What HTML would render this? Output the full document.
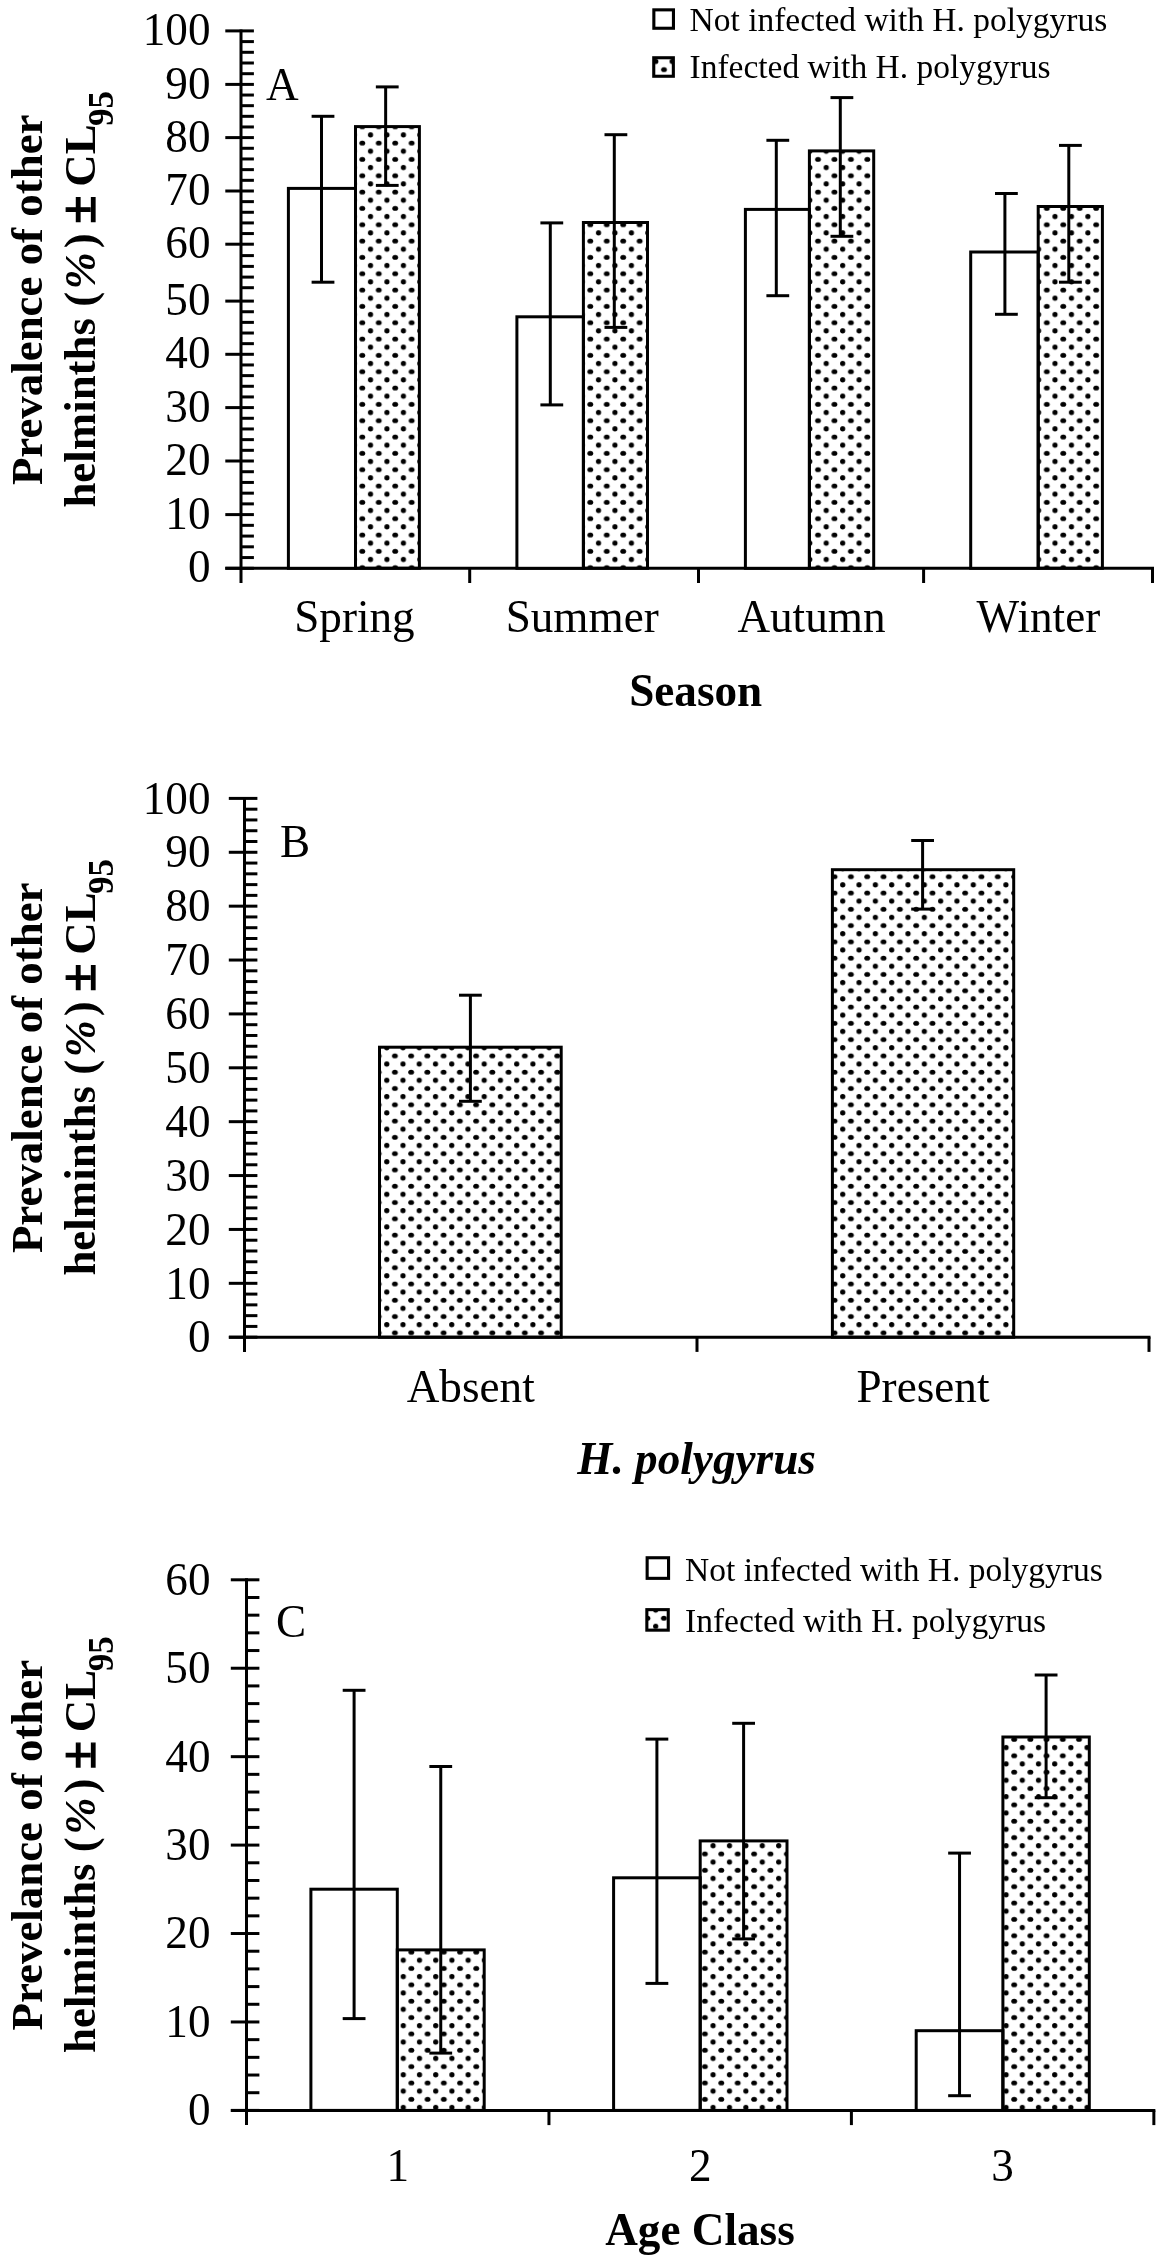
<!DOCTYPE html>
<html><head><meta charset="utf-8"><title>Prevalence of other helminths</title>
<style>
html,body{margin:0;padding:0;background:#fff;overflow:hidden;}
svg{display:block;filter:grayscale(1);}
text{font-family:"Liberation Serif",serif;fill:#000;}
</style></head>
<body>
<svg width="1156" height="2255" viewBox="0 0 1156 2255" stroke="#000" fill="#000">
<defs><pattern id="p0" patternUnits="userSpaceOnUse" x="358.19" y="547.22" width="16.45" height="16.33"><g stroke="none"><ellipse cx="4.11" cy="4.08" rx="2.9" ry="2.5"/><ellipse cx="12.34" cy="12.25" rx="2.6" ry="2.6"/></g></pattern><pattern id="p1" patternUnits="userSpaceOnUse" x="586.19" y="547.22" width="16.45" height="16.33"><g stroke="none"><ellipse cx="4.11" cy="4.08" rx="2.9" ry="2.5"/><ellipse cx="12.34" cy="12.25" rx="2.6" ry="2.6"/></g></pattern><pattern id="p2" patternUnits="userSpaceOnUse" x="813.89" y="547.22" width="16.45" height="16.33"><g stroke="none"><ellipse cx="4.11" cy="4.08" rx="2.9" ry="2.5"/><ellipse cx="12.34" cy="12.25" rx="2.6" ry="2.6"/></g></pattern><pattern id="p3" patternUnits="userSpaceOnUse" x="1042.69" y="547.22" width="16.45" height="16.33"><g stroke="none"><ellipse cx="4.11" cy="4.08" rx="2.9" ry="2.5"/><ellipse cx="12.34" cy="12.25" rx="2.6" ry="2.6"/></g></pattern><pattern id="p4" patternUnits="userSpaceOnUse" x="659.9" y="65.52" width="16.4" height="16.33"><g stroke="none"><ellipse cx="4.1" cy="4.08" rx="2.9" ry="2.5"/><ellipse cx="12.3" cy="12.25" rx="2.6" ry="2.6"/></g></pattern><pattern id="p5" patternUnits="userSpaceOnUse" x="390.84" y="1328.73" width="16.24" height="16.29"><g stroke="none"><ellipse cx="4.06" cy="4.07" rx="2.9" ry="2.5"/><ellipse cx="12.18" cy="12.22" rx="2.6" ry="2.6"/></g></pattern><pattern id="p6" patternUnits="userSpaceOnUse" x="846.82" y="1328.73" width="16.32" height="16.29"><g stroke="none"><ellipse cx="4.08" cy="4.07" rx="2.9" ry="2.5"/><ellipse cx="12.24" cy="12.22" rx="2.6" ry="2.6"/></g></pattern><pattern id="p7" patternUnits="userSpaceOnUse" x="407.34" y="2095.21" width="16.22" height="16.36"><g stroke="none"><ellipse cx="4.05" cy="4.09" rx="2.9" ry="2.5"/><ellipse cx="12.16" cy="12.27" rx="2.6" ry="2.6"/></g></pattern><pattern id="p8" patternUnits="userSpaceOnUse" x="700.8" y="2095.21" width="16.4" height="16.36"><g stroke="none"><ellipse cx="4.1" cy="4.09" rx="2.9" ry="2.5"/><ellipse cx="12.3" cy="12.27" rx="2.6" ry="2.6"/></g></pattern><pattern id="p9" patternUnits="userSpaceOnUse" x="1010.15" y="2095.21" width="16.2" height="16.36"><g stroke="none"><ellipse cx="4.05" cy="4.09" rx="2.9" ry="2.5"/><ellipse cx="12.15" cy="12.27" rx="2.6" ry="2.6"/></g></pattern><pattern id="p10" patternUnits="userSpaceOnUse" x="659.8" y="1614.12" width="16.4" height="16.33"><g stroke="none"><ellipse cx="4.1" cy="4.08" rx="2.9" ry="2.5"/><ellipse cx="12.3" cy="12.25" rx="2.6" ry="2.6"/></g></pattern></defs>
<g>
<line x1="241" y1="29.4" x2="241" y2="583" stroke-width="3"/>
<line x1="225.3" y1="568.3" x2="253.9" y2="568.3" stroke-width="3"/>
<text stroke="none" transform="translate(210.5 582.4) scale(1 1.045)" font-size="45.2" text-anchor="end">0</text>
<line x1="241" y1="557.56" x2="253.9" y2="557.56" stroke-width="3"/>
<line x1="241" y1="546.82" x2="253.9" y2="546.82" stroke-width="3"/>
<line x1="241" y1="536.08" x2="253.9" y2="536.08" stroke-width="3"/>
<line x1="241" y1="525.34" x2="253.9" y2="525.34" stroke-width="3"/>
<line x1="225.3" y1="514.6" x2="253.9" y2="514.6" stroke-width="3"/>
<text stroke="none" transform="translate(210.5 528.7) scale(1 1.045)" font-size="45.2" text-anchor="end">10</text>
<line x1="241" y1="503.88" x2="253.9" y2="503.88" stroke-width="3"/>
<line x1="241" y1="493.16" x2="253.9" y2="493.16" stroke-width="3"/>
<line x1="241" y1="482.44" x2="253.9" y2="482.44" stroke-width="3"/>
<line x1="241" y1="471.72" x2="253.9" y2="471.72" stroke-width="3"/>
<line x1="225.3" y1="461" x2="253.9" y2="461" stroke-width="3"/>
<text stroke="none" transform="translate(210.5 475.1) scale(1 1.045)" font-size="45.2" text-anchor="end">20</text>
<line x1="241" y1="450.32" x2="253.9" y2="450.32" stroke-width="3"/>
<line x1="241" y1="439.64" x2="253.9" y2="439.64" stroke-width="3"/>
<line x1="241" y1="428.96" x2="253.9" y2="428.96" stroke-width="3"/>
<line x1="241" y1="418.28" x2="253.9" y2="418.28" stroke-width="3"/>
<line x1="225.3" y1="407.6" x2="253.9" y2="407.6" stroke-width="3"/>
<text stroke="none" transform="translate(210.5 421.7) scale(1 1.045)" font-size="45.2" text-anchor="end">30</text>
<line x1="241" y1="396.94" x2="253.9" y2="396.94" stroke-width="3"/>
<line x1="241" y1="386.28" x2="253.9" y2="386.28" stroke-width="3"/>
<line x1="241" y1="375.62" x2="253.9" y2="375.62" stroke-width="3"/>
<line x1="241" y1="364.96" x2="253.9" y2="364.96" stroke-width="3"/>
<line x1="225.3" y1="354.3" x2="253.9" y2="354.3" stroke-width="3"/>
<text stroke="none" transform="translate(210.5 368.4) scale(1 1.045)" font-size="45.2" text-anchor="end">40</text>
<line x1="241" y1="343.66" x2="253.9" y2="343.66" stroke-width="3"/>
<line x1="241" y1="333.02" x2="253.9" y2="333.02" stroke-width="3"/>
<line x1="241" y1="322.38" x2="253.9" y2="322.38" stroke-width="3"/>
<line x1="241" y1="311.74" x2="253.9" y2="311.74" stroke-width="3"/>
<line x1="225.3" y1="301.1" x2="253.9" y2="301.1" stroke-width="3"/>
<text stroke="none" transform="translate(210.5 315.2) scale(1 1.045)" font-size="45.2" text-anchor="end">50</text>
<line x1="241" y1="287.7" x2="253.9" y2="287.7" stroke-width="3"/>
<line x1="241" y1="277.1" x2="253.9" y2="277.1" stroke-width="3"/>
<line x1="241" y1="266.4" x2="253.9" y2="266.4" stroke-width="3"/>
<line x1="241" y1="255.6" x2="253.9" y2="255.6" stroke-width="3"/>
<line x1="225.3" y1="244.2" x2="253.9" y2="244.2" stroke-width="3"/>
<text stroke="none" transform="translate(210.5 258.3) scale(1 1.045)" font-size="45.2" text-anchor="end">60</text>
<line x1="241" y1="233.56" x2="253.9" y2="233.56" stroke-width="3"/>
<line x1="241" y1="222.92" x2="253.9" y2="222.92" stroke-width="3"/>
<line x1="241" y1="212.28" x2="253.9" y2="212.28" stroke-width="3"/>
<line x1="241" y1="201.64" x2="253.9" y2="201.64" stroke-width="3"/>
<line x1="225.3" y1="191" x2="253.9" y2="191" stroke-width="3"/>
<text stroke="none" transform="translate(210.5 205.1) scale(1 1.045)" font-size="45.2" text-anchor="end">70</text>
<line x1="241" y1="180.32" x2="253.9" y2="180.32" stroke-width="3"/>
<line x1="241" y1="169.64" x2="253.9" y2="169.64" stroke-width="3"/>
<line x1="241" y1="158.96" x2="253.9" y2="158.96" stroke-width="3"/>
<line x1="241" y1="148.28" x2="253.9" y2="148.28" stroke-width="3"/>
<line x1="225.3" y1="137.6" x2="253.9" y2="137.6" stroke-width="3"/>
<text stroke="none" transform="translate(210.5 151.7) scale(1 1.045)" font-size="45.2" text-anchor="end">80</text>
<line x1="241" y1="126.96" x2="253.9" y2="126.96" stroke-width="3"/>
<line x1="241" y1="116.32" x2="253.9" y2="116.32" stroke-width="3"/>
<line x1="241" y1="105.68" x2="253.9" y2="105.68" stroke-width="3"/>
<line x1="241" y1="95.04" x2="253.9" y2="95.04" stroke-width="3"/>
<line x1="225.3" y1="84.4" x2="253.9" y2="84.4" stroke-width="3"/>
<text stroke="none" transform="translate(210.5 98.5) scale(1 1.045)" font-size="45.2" text-anchor="end">90</text>
<line x1="241" y1="73.7" x2="253.9" y2="73.7" stroke-width="3"/>
<line x1="241" y1="63" x2="253.9" y2="63" stroke-width="3"/>
<line x1="241" y1="52.3" x2="253.9" y2="52.3" stroke-width="3"/>
<line x1="241" y1="41.6" x2="253.9" y2="41.6" stroke-width="3"/>
<line x1="225.3" y1="30.9" x2="253.9" y2="30.9" stroke-width="3"/>
<text stroke="none" transform="translate(210.5 45) scale(1 1.045)" font-size="45.2" text-anchor="end">100</text>
<line x1="225.3" y1="568.3" x2="1154" y2="568.3" stroke-width="3"/>
<line x1="469.7" y1="568.3" x2="469.7" y2="583" stroke-width="3"/>
<line x1="698.5" y1="568.3" x2="698.5" y2="583" stroke-width="3"/>
<line x1="923.6" y1="568.3" x2="923.6" y2="583" stroke-width="3"/>
<line x1="1152.5" y1="568.3" x2="1152.5" y2="583" stroke-width="3"/>
<rect x="288.4" y="188.4" width="67.1" height="379.9" fill="#fff" stroke-width="3"/>
<rect x="355.5" y="126.6" width="63.9" height="441.7" fill="url(#p0)" stroke-width="3"/>
<rect x="516.9" y="316.8" width="66.5" height="251.5" fill="#fff" stroke-width="3"/>
<rect x="583.4" y="222.5" width="64.1" height="345.8" fill="url(#p1)" stroke-width="3"/>
<rect x="745.4" y="209.4" width="64" height="358.9" fill="#fff" stroke-width="3"/>
<rect x="809.4" y="150.9" width="64.3" height="417.4" fill="url(#p2)" stroke-width="3"/>
<rect x="970.7" y="252" width="67.5" height="316.3" fill="#fff" stroke-width="3"/>
<rect x="1038.2" y="206.5" width="64.2" height="361.8" fill="url(#p3)" stroke-width="3"/>
<line x1="321.5" y1="116.3" x2="321.5" y2="282.2" stroke-width="3"/>
<line x1="311.6" y1="116.3" x2="334.4" y2="116.3" stroke-width="3"/>
<line x1="311.6" y1="282.2" x2="334.4" y2="282.2" stroke-width="3"/>
<line x1="385.65" y1="86.9" x2="385.65" y2="185.4" stroke-width="3"/>
<line x1="375.85" y1="86.9" x2="398.65" y2="86.9" stroke-width="3"/>
<line x1="375.85" y1="185.4" x2="398.65" y2="185.4" stroke-width="3"/>
<line x1="550.3" y1="222.9" x2="550.3" y2="404.9" stroke-width="3"/>
<line x1="540.4" y1="222.9" x2="563.2" y2="222.9" stroke-width="3"/>
<line x1="540.4" y1="404.9" x2="563.2" y2="404.9" stroke-width="3"/>
<line x1="614.3" y1="134.7" x2="614.3" y2="327.4" stroke-width="3"/>
<line x1="604.5" y1="134.7" x2="627.3" y2="134.7" stroke-width="3"/>
<line x1="604.5" y1="327.4" x2="627.3" y2="327.4" stroke-width="3"/>
<line x1="776.3" y1="140.3" x2="776.3" y2="295.7" stroke-width="3"/>
<line x1="766.4" y1="140.3" x2="789.2" y2="140.3" stroke-width="3"/>
<line x1="766.4" y1="295.7" x2="789.2" y2="295.7" stroke-width="3"/>
<line x1="840.3" y1="97.6" x2="840.3" y2="236.3" stroke-width="3"/>
<line x1="830.5" y1="97.6" x2="853.3" y2="97.6" stroke-width="3"/>
<line x1="830.5" y1="236.3" x2="853.3" y2="236.3" stroke-width="3"/>
<line x1="1004.9" y1="193.5" x2="1004.9" y2="314.3" stroke-width="3"/>
<line x1="995" y1="193.5" x2="1017.8" y2="193.5" stroke-width="3"/>
<line x1="995" y1="314.3" x2="1017.8" y2="314.3" stroke-width="3"/>
<line x1="1068.8" y1="145.4" x2="1068.8" y2="282.2" stroke-width="3"/>
<line x1="1059" y1="145.4" x2="1081.8" y2="145.4" stroke-width="3"/>
<line x1="1059" y1="282.2" x2="1081.8" y2="282.2" stroke-width="3"/>
<text stroke="none" transform="translate(266 99.5) scale(1 1.045)" font-size="45.2">A</text>
<rect x="653.85" y="9.85" width="19.6" height="18.4" fill="#fff" stroke-width="3.1"/>
<rect x="653.75" y="57.75" width="19.6" height="18.5" fill="url(#p4)" stroke-width="3.1"/>
<text stroke="none" x="689.5" y="30.8" font-size="33.5">Not infected with H. polygyrus</text>
<text stroke="none" x="689.5" y="78.3" font-size="33.5">Infected with H. polygyrus</text>
<text stroke="none" transform="translate(354.45 631.8) scale(1 1.045)" font-size="45.2" text-anchor="middle">Spring</text>
<text stroke="none" transform="translate(582.2 631.8) scale(1 1.045)" font-size="45.2" text-anchor="middle">Summer</text>
<text stroke="none" transform="translate(811.45 631.8) scale(1 1.045)" font-size="45.2" text-anchor="middle">Autumn</text>
<text stroke="none" transform="translate(1038.45 631.8) scale(1 1.045)" font-size="45.2" text-anchor="middle">Winter</text>
<text stroke="none" transform="translate(695.7 706.2) scale(1 1.045)" font-size="45.2" text-anchor="middle" font-weight="bold">Season</text>
<g transform="translate(42 299.8) rotate(-90)">
<text stroke="none" x="0" y="0" font-size="44.9" font-weight="bold" text-anchor="middle">Prevalence of other</text>
<text stroke="none" x="0.55" y="53" font-size="44.9" font-weight="bold" text-anchor="middle">helminths (<tspan font-style="italic" dx="2.4">%</tspan><tspan dx="3.85">)</tspan> <tspan font-size="51.5" dx="-1.75" stroke="#000" stroke-width="1.3">±</tspan><tspan font-size="44.9" dx="-2.5"> CL</tspan><tspan font-size="35" dx="-1.5" dy="17.5">95</tspan></text>
</g>
<line x1="244.5" y1="796.9" x2="244.5" y2="1351.9" stroke-width="3"/>
<line x1="228.8" y1="1337.2" x2="257.4" y2="1337.2" stroke-width="3"/>
<text stroke="none" transform="translate(210.5 1352.4) scale(1 1.045)" font-size="45.2" text-anchor="end">0</text>
<line x1="244.5" y1="1326.42" x2="257.4" y2="1326.42" stroke-width="3"/>
<line x1="244.5" y1="1315.65" x2="257.4" y2="1315.65" stroke-width="3"/>
<line x1="244.5" y1="1304.87" x2="257.4" y2="1304.87" stroke-width="3"/>
<line x1="244.5" y1="1294.1" x2="257.4" y2="1294.1" stroke-width="3"/>
<line x1="228.8" y1="1283.32" x2="257.4" y2="1283.32" stroke-width="3"/>
<text stroke="none" transform="translate(210.5 1298.52) scale(1 1.045)" font-size="45.2" text-anchor="end">10</text>
<line x1="244.5" y1="1272.54" x2="257.4" y2="1272.54" stroke-width="3"/>
<line x1="244.5" y1="1261.77" x2="257.4" y2="1261.77" stroke-width="3"/>
<line x1="244.5" y1="1250.99" x2="257.4" y2="1250.99" stroke-width="3"/>
<line x1="244.5" y1="1240.22" x2="257.4" y2="1240.22" stroke-width="3"/>
<line x1="228.8" y1="1229.44" x2="257.4" y2="1229.44" stroke-width="3"/>
<text stroke="none" transform="translate(210.5 1244.64) scale(1 1.045)" font-size="45.2" text-anchor="end">20</text>
<line x1="244.5" y1="1218.66" x2="257.4" y2="1218.66" stroke-width="3"/>
<line x1="244.5" y1="1207.89" x2="257.4" y2="1207.89" stroke-width="3"/>
<line x1="244.5" y1="1197.11" x2="257.4" y2="1197.11" stroke-width="3"/>
<line x1="244.5" y1="1186.34" x2="257.4" y2="1186.34" stroke-width="3"/>
<line x1="228.8" y1="1175.56" x2="257.4" y2="1175.56" stroke-width="3"/>
<text stroke="none" transform="translate(210.5 1190.76) scale(1 1.045)" font-size="45.2" text-anchor="end">30</text>
<line x1="244.5" y1="1164.78" x2="257.4" y2="1164.78" stroke-width="3"/>
<line x1="244.5" y1="1154.01" x2="257.4" y2="1154.01" stroke-width="3"/>
<line x1="244.5" y1="1143.23" x2="257.4" y2="1143.23" stroke-width="3"/>
<line x1="244.5" y1="1132.46" x2="257.4" y2="1132.46" stroke-width="3"/>
<line x1="228.8" y1="1121.68" x2="257.4" y2="1121.68" stroke-width="3"/>
<text stroke="none" transform="translate(210.5 1136.88) scale(1 1.045)" font-size="45.2" text-anchor="end">40</text>
<line x1="244.5" y1="1110.9" x2="257.4" y2="1110.9" stroke-width="3"/>
<line x1="244.5" y1="1100.13" x2="257.4" y2="1100.13" stroke-width="3"/>
<line x1="244.5" y1="1089.35" x2="257.4" y2="1089.35" stroke-width="3"/>
<line x1="244.5" y1="1078.58" x2="257.4" y2="1078.58" stroke-width="3"/>
<line x1="228.8" y1="1067.8" x2="257.4" y2="1067.8" stroke-width="3"/>
<text stroke="none" transform="translate(210.5 1083) scale(1 1.045)" font-size="45.2" text-anchor="end">50</text>
<line x1="244.5" y1="1057.02" x2="257.4" y2="1057.02" stroke-width="3"/>
<line x1="244.5" y1="1046.25" x2="257.4" y2="1046.25" stroke-width="3"/>
<line x1="244.5" y1="1035.47" x2="257.4" y2="1035.47" stroke-width="3"/>
<line x1="244.5" y1="1024.7" x2="257.4" y2="1024.7" stroke-width="3"/>
<line x1="228.8" y1="1013.92" x2="257.4" y2="1013.92" stroke-width="3"/>
<text stroke="none" transform="translate(210.5 1029.12) scale(1 1.045)" font-size="45.2" text-anchor="end">60</text>
<line x1="244.5" y1="1003.14" x2="257.4" y2="1003.14" stroke-width="3"/>
<line x1="244.5" y1="992.37" x2="257.4" y2="992.37" stroke-width="3"/>
<line x1="244.5" y1="981.59" x2="257.4" y2="981.59" stroke-width="3"/>
<line x1="244.5" y1="970.82" x2="257.4" y2="970.82" stroke-width="3"/>
<line x1="228.8" y1="960.04" x2="257.4" y2="960.04" stroke-width="3"/>
<text stroke="none" transform="translate(210.5 975.24) scale(1 1.045)" font-size="45.2" text-anchor="end">70</text>
<line x1="244.5" y1="949.26" x2="257.4" y2="949.26" stroke-width="3"/>
<line x1="244.5" y1="938.49" x2="257.4" y2="938.49" stroke-width="3"/>
<line x1="244.5" y1="927.71" x2="257.4" y2="927.71" stroke-width="3"/>
<line x1="244.5" y1="916.94" x2="257.4" y2="916.94" stroke-width="3"/>
<line x1="228.8" y1="906.16" x2="257.4" y2="906.16" stroke-width="3"/>
<text stroke="none" transform="translate(210.5 921.36) scale(1 1.045)" font-size="45.2" text-anchor="end">80</text>
<line x1="244.5" y1="895.38" x2="257.4" y2="895.38" stroke-width="3"/>
<line x1="244.5" y1="884.61" x2="257.4" y2="884.61" stroke-width="3"/>
<line x1="244.5" y1="873.83" x2="257.4" y2="873.83" stroke-width="3"/>
<line x1="244.5" y1="863.06" x2="257.4" y2="863.06" stroke-width="3"/>
<line x1="228.8" y1="852.28" x2="257.4" y2="852.28" stroke-width="3"/>
<text stroke="none" transform="translate(210.5 867.48) scale(1 1.045)" font-size="45.2" text-anchor="end">90</text>
<line x1="244.5" y1="841.5" x2="257.4" y2="841.5" stroke-width="3"/>
<line x1="244.5" y1="830.73" x2="257.4" y2="830.73" stroke-width="3"/>
<line x1="244.5" y1="819.95" x2="257.4" y2="819.95" stroke-width="3"/>
<line x1="244.5" y1="809.18" x2="257.4" y2="809.18" stroke-width="3"/>
<line x1="228.8" y1="798.4" x2="257.4" y2="798.4" stroke-width="3"/>
<text stroke="none" transform="translate(210.5 813.6) scale(1 1.045)" font-size="45.2" text-anchor="end">100</text>
<line x1="228.9" y1="1337.2" x2="1150.5" y2="1337.2" stroke-width="3"/>
<line x1="697" y1="1337.2" x2="697" y2="1351.9" stroke-width="3"/>
<line x1="1149" y1="1337.2" x2="1149" y2="1351.9" stroke-width="3"/>
<rect x="379.5" y="1047.2" width="181.7" height="290" fill="url(#p5)" stroke-width="3"/>
<rect x="832.4" y="869.7" width="181.3" height="467.5" fill="url(#p6)" stroke-width="3"/>
<line x1="470.4" y1="995.2" x2="470.4" y2="1101.3" stroke-width="3"/>
<line x1="459" y1="995.2" x2="481.8" y2="995.2" stroke-width="3"/>
<line x1="459" y1="1101.3" x2="481.8" y2="1101.3" stroke-width="3"/>
<line x1="922.6" y1="840.5" x2="922.6" y2="909.1" stroke-width="3"/>
<line x1="911.2" y1="840.5" x2="934" y2="840.5" stroke-width="3"/>
<line x1="911.2" y1="909.1" x2="934" y2="909.1" stroke-width="3"/>
<text stroke="none" transform="translate(280 856.5) scale(1 1.045)" font-size="45.2">B</text>
<text stroke="none" transform="translate(470.75 1402.4) scale(1 1.045)" font-size="45.2" text-anchor="middle">Absent</text>
<text stroke="none" transform="translate(923 1402.4) scale(1 1.045)" font-size="45.2" text-anchor="middle">Present</text>
<text stroke="none" transform="translate(696.6 1474) scale(1 1.045)" font-size="45.2" text-anchor="middle" font-weight="bold" font-style="italic">H. polygyrus</text>
<g transform="translate(42 1067.8) rotate(-90)">
<text stroke="none" x="0" y="0" font-size="44.9" font-weight="bold" text-anchor="middle">Prevalence of other</text>
<text stroke="none" x="0.55" y="53" font-size="44.9" font-weight="bold" text-anchor="middle">helminths (<tspan font-style="italic" dx="2.4">%</tspan><tspan dx="3.85">)</tspan> <tspan font-size="51.5" dx="-1.75" stroke="#000" stroke-width="1.3">±</tspan><tspan font-size="44.9" dx="-2.5"> CL</tspan><tspan font-size="35" dx="-1.5" dy="17.5">95</tspan></text>
</g>
<line x1="246.5" y1="1578.3" x2="246.5" y2="2125.1" stroke-width="3"/>
<line x1="230.8" y1="2110.4" x2="259.4" y2="2110.4" stroke-width="3"/>
<text stroke="none" transform="translate(210.5 2125.3) scale(1 1.045)" font-size="45.2" text-anchor="end">0</text>
<line x1="246.5" y1="2092.71" x2="259.4" y2="2092.71" stroke-width="3"/>
<line x1="246.5" y1="2075.03" x2="259.4" y2="2075.03" stroke-width="3"/>
<line x1="246.5" y1="2057.34" x2="259.4" y2="2057.34" stroke-width="3"/>
<line x1="246.5" y1="2039.65" x2="259.4" y2="2039.65" stroke-width="3"/>
<line x1="230.8" y1="2021.97" x2="259.4" y2="2021.97" stroke-width="3"/>
<text stroke="none" transform="translate(210.5 2036.87) scale(1 1.045)" font-size="45.2" text-anchor="end">10</text>
<line x1="246.5" y1="2004.28" x2="259.4" y2="2004.28" stroke-width="3"/>
<line x1="246.5" y1="1986.59" x2="259.4" y2="1986.59" stroke-width="3"/>
<line x1="246.5" y1="1968.91" x2="259.4" y2="1968.91" stroke-width="3"/>
<line x1="246.5" y1="1951.22" x2="259.4" y2="1951.22" stroke-width="3"/>
<line x1="230.8" y1="1933.53" x2="259.4" y2="1933.53" stroke-width="3"/>
<text stroke="none" transform="translate(210.5 1948.43) scale(1 1.045)" font-size="45.2" text-anchor="end">20</text>
<line x1="246.5" y1="1915.85" x2="259.4" y2="1915.85" stroke-width="3"/>
<line x1="246.5" y1="1898.16" x2="259.4" y2="1898.16" stroke-width="3"/>
<line x1="246.5" y1="1880.47" x2="259.4" y2="1880.47" stroke-width="3"/>
<line x1="246.5" y1="1862.79" x2="259.4" y2="1862.79" stroke-width="3"/>
<line x1="230.8" y1="1845.1" x2="259.4" y2="1845.1" stroke-width="3"/>
<text stroke="none" transform="translate(210.5 1860) scale(1 1.045)" font-size="45.2" text-anchor="end">30</text>
<line x1="246.5" y1="1827.41" x2="259.4" y2="1827.41" stroke-width="3"/>
<line x1="246.5" y1="1809.73" x2="259.4" y2="1809.73" stroke-width="3"/>
<line x1="246.5" y1="1792.04" x2="259.4" y2="1792.04" stroke-width="3"/>
<line x1="246.5" y1="1774.35" x2="259.4" y2="1774.35" stroke-width="3"/>
<line x1="230.8" y1="1756.67" x2="259.4" y2="1756.67" stroke-width="3"/>
<text stroke="none" transform="translate(210.5 1771.57) scale(1 1.045)" font-size="45.2" text-anchor="end">40</text>
<line x1="246.5" y1="1738.98" x2="259.4" y2="1738.98" stroke-width="3"/>
<line x1="246.5" y1="1721.29" x2="259.4" y2="1721.29" stroke-width="3"/>
<line x1="246.5" y1="1703.61" x2="259.4" y2="1703.61" stroke-width="3"/>
<line x1="246.5" y1="1685.92" x2="259.4" y2="1685.92" stroke-width="3"/>
<line x1="230.8" y1="1668.23" x2="259.4" y2="1668.23" stroke-width="3"/>
<text stroke="none" transform="translate(210.5 1683.13) scale(1 1.045)" font-size="45.2" text-anchor="end">50</text>
<line x1="246.5" y1="1650.55" x2="259.4" y2="1650.55" stroke-width="3"/>
<line x1="246.5" y1="1632.86" x2="259.4" y2="1632.86" stroke-width="3"/>
<line x1="246.5" y1="1615.17" x2="259.4" y2="1615.17" stroke-width="3"/>
<line x1="246.5" y1="1597.49" x2="259.4" y2="1597.49" stroke-width="3"/>
<line x1="230.8" y1="1579.8" x2="259.4" y2="1579.8" stroke-width="3"/>
<text stroke="none" transform="translate(210.5 1594.7) scale(1 1.045)" font-size="45.2" text-anchor="end">60</text>
<line x1="230.9" y1="2110.4" x2="1155.35" y2="2110.4" stroke-width="3"/>
<line x1="548.95" y1="2110.4" x2="548.95" y2="2125.1" stroke-width="3"/>
<line x1="851.4" y1="2110.4" x2="851.4" y2="2125.1" stroke-width="3"/>
<line x1="1153.85" y1="2110.4" x2="1153.85" y2="2125.1" stroke-width="3"/>
<rect x="310.9" y="1889.2" width="86.4" height="221.2" fill="#fff" stroke-width="3"/>
<rect x="397.3" y="1949.9" width="86.9" height="160.5" fill="url(#p7)" stroke-width="3"/>
<rect x="613.6" y="1877.8" width="86.6" height="232.6" fill="#fff" stroke-width="3"/>
<rect x="700.2" y="1840.9" width="86.8" height="269.5" fill="url(#p8)" stroke-width="3"/>
<rect x="916.2" y="2030.7" width="86.7" height="79.7" fill="#fff" stroke-width="3"/>
<rect x="1002.9" y="1737" width="86.4" height="373.4" fill="url(#p9)" stroke-width="3"/>
<line x1="354.1" y1="1690.3" x2="354.1" y2="2018.6" stroke-width="3"/>
<line x1="342.7" y1="1690.3" x2="365.5" y2="1690.3" stroke-width="3"/>
<line x1="342.7" y1="2018.6" x2="365.5" y2="2018.6" stroke-width="3"/>
<line x1="440.75" y1="1766.5" x2="440.75" y2="2053.1" stroke-width="3"/>
<line x1="429.35" y1="1766.5" x2="452.15" y2="1766.5" stroke-width="3"/>
<line x1="429.35" y1="2053.1" x2="452.15" y2="2053.1" stroke-width="3"/>
<line x1="656.9" y1="1739.1" x2="656.9" y2="1983.4" stroke-width="3"/>
<line x1="645.5" y1="1739.1" x2="668.3" y2="1739.1" stroke-width="3"/>
<line x1="645.5" y1="1983.4" x2="668.3" y2="1983.4" stroke-width="3"/>
<line x1="743.6" y1="1723.3" x2="743.6" y2="1938.9" stroke-width="3"/>
<line x1="732.2" y1="1723.3" x2="755" y2="1723.3" stroke-width="3"/>
<line x1="732.2" y1="1938.9" x2="755" y2="1938.9" stroke-width="3"/>
<line x1="959.55" y1="1853.1" x2="959.55" y2="2095.7" stroke-width="3"/>
<line x1="948.15" y1="1853.1" x2="970.95" y2="1853.1" stroke-width="3"/>
<line x1="948.15" y1="2095.7" x2="970.95" y2="2095.7" stroke-width="3"/>
<line x1="1046.1" y1="1675" x2="1046.1" y2="1797.7" stroke-width="3"/>
<line x1="1034.7" y1="1675" x2="1057.5" y2="1675" stroke-width="3"/>
<line x1="1034.7" y1="1797.7" x2="1057.5" y2="1797.7" stroke-width="3"/>
<text stroke="none" transform="translate(276 1637) scale(1 1.045)" font-size="45.2">C</text>
<rect x="647.15" y="1557.75" width="21.4" height="20.6" fill="#fff" stroke-width="3.1"/>
<rect x="646.85" y="1609.65" width="21.4" height="20.5" fill="url(#p10)" stroke-width="3.1"/>
<text stroke="none" x="685" y="1580.5" font-size="33.5">Not infected with H. polygyrus</text>
<text stroke="none" x="685" y="1632.4" font-size="33.5">Infected with H. polygyrus</text>
<text stroke="none" transform="translate(397.73 2180.6) scale(1 1.045)" font-size="45.2" text-anchor="middle">1</text>
<text stroke="none" transform="translate(700.17 2180.6) scale(1 1.045)" font-size="45.2" text-anchor="middle">2</text>
<text stroke="none" transform="translate(1002.62 2180.6) scale(1 1.045)" font-size="45.2" text-anchor="middle">3</text>
<text stroke="none" transform="translate(700 2244.6) scale(1 1.045)" font-size="45.2" text-anchor="middle" font-weight="bold">Age Class</text>
<g transform="translate(42 1845.2) rotate(-90)">
<text stroke="none" x="0" y="0" font-size="44.9" font-weight="bold" text-anchor="middle">Prevelance of other</text>
<text stroke="none" x="0.55" y="53" font-size="44.9" font-weight="bold" text-anchor="middle">helminths (<tspan font-style="italic" dx="2.4">%</tspan><tspan dx="3.85">)</tspan> <tspan font-size="51.5" dx="-1.75" stroke="#000" stroke-width="1.3">±</tspan><tspan font-size="44.9" dx="-2.5"> CL</tspan><tspan font-size="35" dx="-1.5" dy="17.5">95</tspan></text>
</g>
</g>
</svg>
</body></html>
